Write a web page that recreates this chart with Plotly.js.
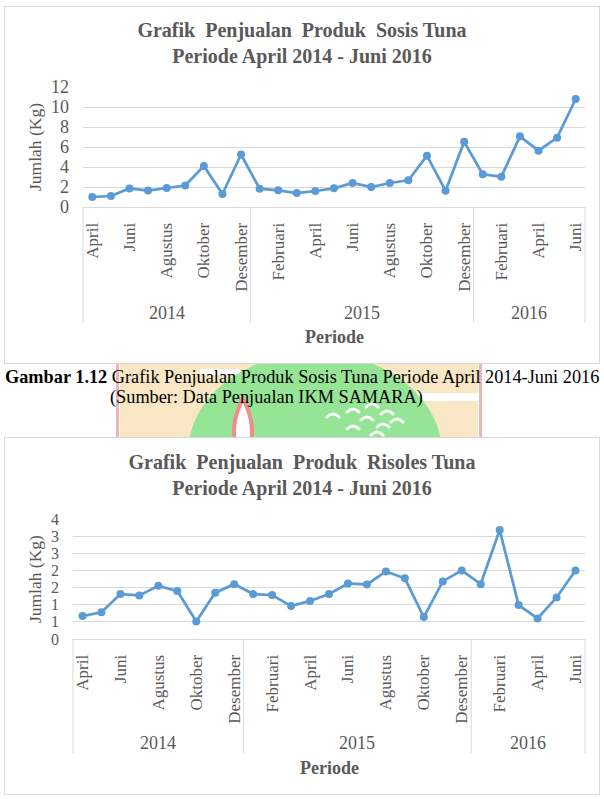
<!DOCTYPE html>
<html><head><meta charset="utf-8">
<script src="https://cdn.plot.ly/plotly-3.0.1.min.js"></script>
<style>
body{margin:0;background:#fff;width:604px;height:799px;position:relative;overflow:hidden;font-family:"Liberation Serif",serif;}
.chart{position:absolute;left:4px;width:594px;height:356px;border:1px solid #d9d9d9;background:#fff;z-index:1;}
#c1{top:6px;} #c2{top:437px;}
.cap{position:absolute;font-size:18.3px;line-height:20px;color:#000;z-index:2;white-space:nowrap;}
#wm{position:absolute;left:0;top:355px;z-index:0;}
</style></head>
<body>
<svg id="wm" width="604" height="90" viewBox="0 0 604 90">
  <rect x="120" y="5" width="358" height="82" fill="#f9e6c4"/>
  <rect x="200" y="14" width="40" height="6" fill="#fff"/>
  <rect x="400" y="38" width="78" height="8" fill="#fff"/>
  <ellipse cx="315" cy="98" rx="127" ry="100" fill="#96e596"/>
  <rect x="116" y="5" width="3" height="82" fill="#e8b8b8"/>
  <rect x="479" y="5" width="3" height="82" fill="#e8b8b8"/>
  <path d="M243,43 C236,58 232,70 235,88 L251,88 C254,70 250,58 243,43 Z" fill="#fff" stroke="#f28b8b" stroke-width="4"/>
  <g fill="none" stroke="#fff" stroke-width="3" stroke-linecap="round">
    <path d="M327,62 q6,-6 12,0"/><path d="M347,57 q6,-6 12,0"/><path d="M366,52 q6,-6 12,0"/>
    <path d="M381,59 q6,-6 12,0"/><path d="M361,65 q6,-6 12,0"/><path d="M377,72 q6,-6 12,0"/>
    <path d="M391,67 q6,-6 12,0"/><path d="M347,74 q6,-6 12,0"/><path d="M371,80 q6,-6 12,0"/>
  </g>
</svg>
<div id="c1" class="chart"></div>
<div class="cap" style="left:5px;top:367px;"><b>Gambar 1.12</b> Grafik Penjualan Produk Sosis Tuna Periode April 2014-Juni 2016</div>
<div class="cap" style="left:110px;top:387px;">(Sumber: Data Penjualan IKM SAMARA)</div>
<div id="c2" class="chart"></div>
<script>
// ---- data ----
const months = ['April','Mei','Juni','Juli','Agustus','September','Oktober','November','Desember',
  'Januari','Februari','Maret','April','Mei','Juni','Juli','Agustus','September','Oktober','November','Desember',
  'Januari','Februari','Maret','April','Mei','Juni'];
const yearGroups = ['2014','2015','2016'];
const yearCounts = [9, 12, 6];
const sosis = [1.0,1.1,1.85,1.65,1.9,2.15,4.1,1.3,5.25,1.83,1.67,1.4,1.6,1.87,2.4,2.0,2.4,2.67,5.13,1.63,6.53,3.27,3.03,7.07,5.63,6.93,10.8];
const risoles = [0.67,0.78,1.31,1.27,1.55,1.40,0.51,1.35,1.60,1.31,1.28,0.96,1.11,1.31,1.62,1.59,1.97,1.77,0.64,1.68,2.0,1.60,3.18,0.99,0.60,1.21,2.0];
const sosisTicks = [0,2,4,6,8,10,12];
const sosisTickText = ['0','2','4','6','8','10','12'];
const risolesTicks = [0,0.5,1,1.5,2,2.5,3,3.5];
const risolesTickText = ['0','1','1','2','2','3','3','4'];
const title1 = ['Grafik\u00a0 Penjualan\u00a0 Produk\u00a0 Sosis Tuna', 'Periode April 2014 - Juni 2016'];
const title2 = ['Grafik\u00a0 Penjualan\u00a0 Produk\u00a0 Risoles Tuna', 'Periode April 2014 - Juni 2016'];
const xTitle = 'Periode';
const yTitle = 'Jumlah (Kg)';

const FONT = 'Liberation Serif, Times New Roman, serif';
const GRAY = '#595959';
const LINEC = '#d9d9d9';
const BLUE = '#5b9bd5';

function makeChart(id, titleLines, values, yt, ytt, opt) {
  const n = months.length;
  const xs = months.map((m, i) => i);
  const tickvals = xs.filter(i => i % 2 === 0);
  const ticktext = tickvals.map(i => months[i]);
  const shapes = [];
  const annotations = [];
  let start = 0;
  const bounds = [0];
  yearGroups.forEach((g, k) => {
    annotations.push({x: start + (yearCounts[k] - 1) / 2, xref: 'x', y: opt.yearY, yref: 'paper',
      text: g, showarrow: false, xanchor: 'center', yanchor: 'middle', font: {size: 18, color: GRAY, family: FONT}});
    start += yearCounts[k];
    bounds.push(start);
  });
  bounds.forEach(b => shapes.push({type: 'line', xref: 'paper', yref: 'paper', x0: b / n, x1: b / n,
    y0: 0, y1: opt.sepY, line: {color: LINEC, width: 1}}));
  annotations.push({x: 0.5, xref: 'paper', y: opt.xtY, yref: 'paper', text: '<b>' + xTitle + '</b>',
    showarrow: false, xanchor: 'center', yanchor: 'middle', font: {size: 18, color: GRAY, family: FONT}});
  annotations.push({x: opt.ytX, xref: 'paper', y: 0.5, yref: 'paper', text: yTitle, textangle: -90,
    showarrow: false, xanchor: 'center', yanchor: 'middle', font: {size: 17.5, color: GRAY, family: FONT}});
  const layout = {
    width: 594, height: 356,
    margin: opt.margin,
    paper_bgcolor: '#fff', plot_bgcolor: '#fff',
    font: {family: FONT, color: GRAY},
    showlegend: false,
    title: {text: '<b>' + titleLines[0] + '</b><br><b>' + titleLines[1] + '</b>',
      font: {size: 20, color: GRAY, family: FONT}, x: 0.5, xanchor: 'center',
      xref: 'container', yref: 'container', y: 1 - opt.titleY / 356, yanchor: 'middle'},
    xaxis: {range: [-0.5, n - 0.5], tickvals: tickvals, ticktext: ticktext, tickangle: -90,
      showgrid: false, zeroline: false, showline: true, linecolor: LINEC, linewidth: 1,
      ticks: '', ticklabelstandoff: 8, tickfont: {size: 17, color: GRAY, family: FONT}},
    yaxis: {range: [0, yt[yt.length - 1]], tickvals: yt, ticktext: ytt, showgrid: true,
      gridcolor: LINEC, gridwidth: 1, zeroline: false, showline: false, ticks: '',
      ticklabelstandoff: 13, tickfont: {size: opt.ytSize, color: GRAY, family: FONT}},
    shapes: shapes,
    annotations: annotations
  };
  const trace = {x: xs, y: values, type: 'scatter', mode: 'lines+markers',
    line: {color: BLUE, width: 2.75}, marker: {color: BLUE, size: 8}, hoverinfo: 'skip', cliponaxis: false};
  Plotly.newPlot(id, [trace], layout, {staticPlot: true, displayModeBar: false});
}

makeChart('c1', title1, sosis, sosisTicks, sosisTickText,
  {margin: {l: 78, r: 14, t: 80, b: 156, pad: 0}, yearY: -0.88, sepY: -0.967, xtY: -1.083, ytX: -0.0956, titleY: 30, ytSize: 18});
makeChart('c2', title2, risoles, risolesTicks, risolesTickText,
  {margin: {l: 68, r: 14, t: 81, b: 155, pad: 0}, yearY: -0.867, sepY: -0.95, xtY: -1.075, ytX: -0.074, titleY: 31, ytSize: 16});
</script>
</body></html>
